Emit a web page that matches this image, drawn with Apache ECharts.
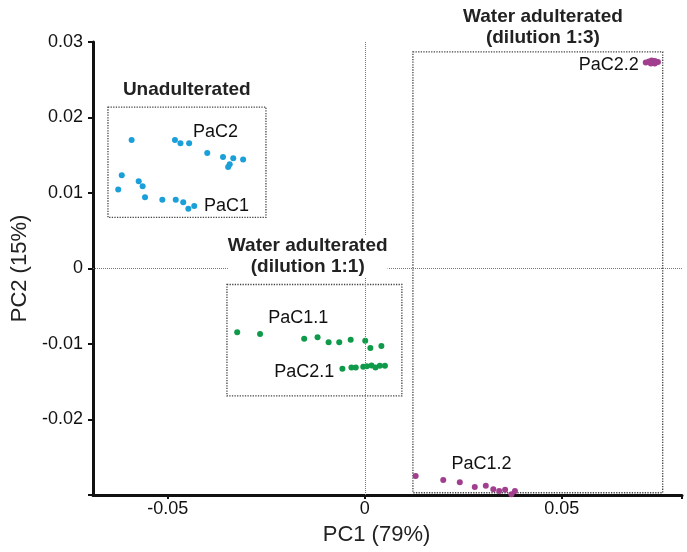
<!DOCTYPE html>
<html>
    <head>
        <meta charset="utf-8">
        <script src="https://cdn.jsdelivr.net/npm/echarts@6/dist/echarts.min.js"></script>
    </head>
    <body>
        <style>
            html, body, #main {
                width: 100%;
                height: 100%;
                margin: 0;
                background: #fff;
            }
        </style>
        <div id="main"></div>
        <script>
            // unadulterated (blue): PaC2 row then PaC1 row
            var unadulterated = [
                [-0.0592, 0.01703], [-0.0482, 0.01703], [-0.0468, 0.01659], [-0.0446, 0.01659],
                [-0.0400, 0.01531], [-0.0360, 0.01478], [-0.0334, 0.01460], [-0.0309, 0.01443],
                [-0.0343, 0.01381], [-0.0347, 0.01345],
                [-0.0617, 0.01235], [-0.0626, 0.01045], [-0.0574, 0.01155], [-0.0564, 0.01089],
                [-0.0558, 0.00943], [-0.0514, 0.00912], [-0.0480, 0.00912], [-0.0461, 0.00876],
                [-0.0448, 0.00793], [-0.0433, 0.00827]
            ];
            // dilution 1:1 (green): PaC1.1 row then PaC2.1 row
            var dilution11 = [
                [-0.0324, -0.00846], [-0.0266, -0.00867], [-0.0154, -0.00929], [-0.0120, -0.00912],
                [-0.0092, -0.00978], [-0.0065, -0.00978], [-0.0036, -0.00943], [0.0001, -0.00956],
                [0.0014, -0.01053], [0.0042, -0.01026],
                [-0.0057, -0.01328], [-0.0034, -0.01310], [-0.0023, -0.01310], [-0.0004, -0.01301],
                [0.0005, -0.01294], [0.0017, -0.01284], [0.0027, -0.01310], [0.0038, -0.01288],
                [0.0051, -0.01288]
            ];
            // dilution 1:3 (purple): PaC1.2 then PaC2.2
            var dilution13 = [
                [0.0129, -0.02748], [0.0199, -0.02801], [0.0241, -0.02832], [0.0279, -0.02894],
                [0.0307, -0.02877], [0.0326, -0.02925], [0.0341, -0.02947], [0.0356, -0.02930],
                [0.0381, -0.02947], [0.0372, -0.02991],
                [0.0713, 0.02728], [0.0721, 0.02741], [0.0728, 0.02755], [0.0736, 0.02748],
                [0.0744, 0.02735], [0.0726, 0.02715], [0.0736, 0.02715]
            ];
            // group boxes: [x1, y1, x2, y2]
            var boxes = [
                [-0.0652, 0.02138, -0.0251, 0.00677],
                [-0.0350, -0.00212, 0.0094, -0.01687],
                [0.0122, 0.02868, 0.0756, -0.0297]
            ];
            // annotations: [x, y, text, heading]
            var notes = [
                [-0.0452, 0.0237, 'Unadulterated', true],
                [-0.0145, 0.00159, 'Water adulterated\n(dilution 1:1)', true],
                [0.0452, 0.0320, 'Water adulterated\n(dilution 1:3)', true],
                [-0.0379, 0.0181, 'PaC2', false],
                [-0.0351, 0.00823, 'PaC1', false],
                [-0.0169, -0.00655, 'PaC1.1', false],
                [-0.0154, -0.01377, 'PaC2.1', false],
                [0.0296, -0.02593, 'PaC1.2', false],
                [0.0619, 0.02695, 'PaC2.2', false]
            ];
            var xLabels = [-0.05, 0, 0.05];
            var xTicks = [-0.05, 0, 0.05, 0.0805];
            var yLabels = [-0.02, -0.01, 0, 0.01, 0.02, 0.03];
            var yTicks = [-0.03, -0.02, -0.01, 0, 0.01, 0.02, 0.03];

            var chart = echarts.init(document.getElementById('main'));
            var font = 'Liberation Sans, Arial, Helvetica, sans-serif';

            chart.setOption({
                animation: false,
                grid: {
                    left: 93,
                    right: 5,
                    top: 42,
                    bottom: 57
                },
                xAxis: {
                    type: 'value',
                    min: -0.069,
                    max: 0.0805,
                    name: 'PC1 (79%)',
                    nameLocation: 'middle',
                    nameGap: 29,
                    nameTextStyle: {
                        fontSize: 22,
                        color: '#222',
                        fontFamily: font,
                        padding: [0, 22, 0, 0]
                    },
                    axisLine: {
                        onZero: false,
                        lineStyle: { color: '#111', width: 3 }
                    },
                    axisTick: {
                        customValues: xTicks,
                        length: 4,
                        lineStyle: { color: '#111', width: 2 }
                    },
                    axisLabel: {
                        customValues: xLabels,
                        margin: 5,
                        fontSize: 18,
                        color: '#111',
                        fontFamily: font
                    },
                    splitLine: { show: false }
                },
                yAxis: {
                    type: 'value',
                    min: -0.03,
                    max: 0.03,
                    name: 'PC2 (15%)',
                    nameLocation: 'middle',
                    nameGap: 55,
                    nameTextStyle: {
                        fontSize: 22,
                        color: '#222',
                        fontFamily: font
                    },
                    axisLine: {
                        onZero: false,
                        lineStyle: { color: '#111', width: 3 }
                    },
                    axisTick: {
                        customValues: yTicks,
                        length: 5,
                        lineStyle: { color: '#111', width: 2 }
                    },
                    axisLabel: {
                        customValues: yLabels,
                        margin: 10,
                        fontSize: 18,
                        color: '#111',
                        fontFamily: font
                    },
                    splitLine: { show: false }
                },
                series: [
                    {
                        name: 'Unadulterated',
                        type: 'scatter',
                        symbolSize: 6,
                        itemStyle: { color: '#1a9fd9', opacity: 1 },
                        data: unadulterated,
                        markLine: {
                            silent: true,
                            symbol: 'none',
                            label: { show: false },
                            lineStyle: { color: '#777', width: 1, type: 'dotted' },
                            data: [{ xAxis: 0 }, { yAxis: 0 }]
                        },
                        markArea: {
                            silent: true,
                            itemStyle: {
                                color: 'rgba(0,0,0,0)',
                                borderColor: '#444',
                                borderWidth: 1.3,
                                borderType: 'dotted'
                            },
                            data: boxes.map(function (b) {
                                return [{ coord: [b[0], b[1]] }, { coord: [b[2], b[3]] }];
                            })
                        }
                    },
                    {
                        name: 'Dilution 1:1',
                        type: 'scatter',
                        symbolSize: 6,
                        itemStyle: { color: '#0f9a4a', opacity: 1 },
                        data: dilution11
                    },
                    {
                        name: 'Dilution 1:3',
                        type: 'scatter',
                        symbolSize: 6,
                        clip: false,
                        itemStyle: { color: '#a13f8e', opacity: 1 },
                        data: dilution13
                    },
                    {
                        name: 'notes',
                        type: 'scatter',
                        symbolSize: 0,
                        clip: false,
                        silent: true,
                        z: 5,
                        itemStyle: { opacity: 1 },
                        label: {
                            show: true,
                            position: 'inside',
                            formatter: '{b}',
                            fontFamily: font,
                            fontSize: 18,
                            color: '#111',
                            align: 'center'
                        },
                        data: notes.map(function (n) {
                            var item = { name: n[2], value: [n[0], n[1]] };
                            if (n[3]) {
                                item.label = {
                                    fontWeight: 'bold',
                                    fontSize: 19,
                                    lineHeight: 21,
                                    color: '#222',
                                    backgroundColor: '#fff'
                                };
                            }
                            return item;
                        })
                    }
                ]
            });
        </script>
    </body>
</html>
